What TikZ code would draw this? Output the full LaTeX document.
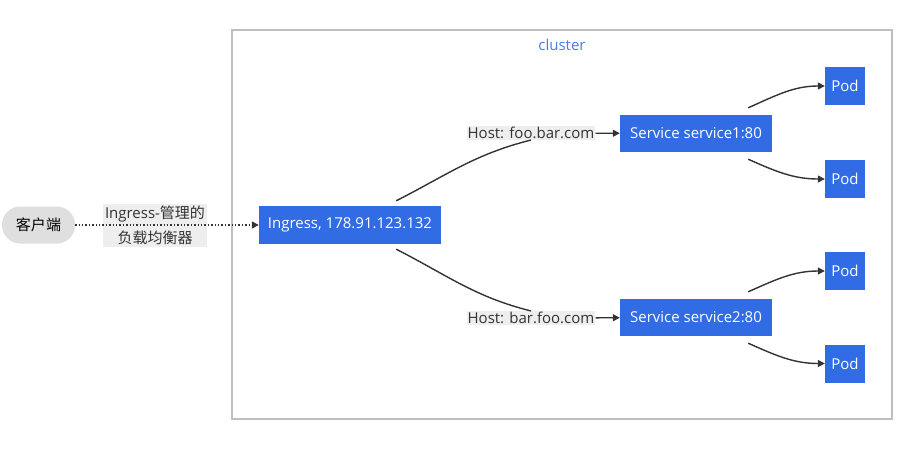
\documentclass[tikz,border=0pt]{standalone}
\usepackage{fontspec}
\setmainfont{Open Sans}
\newfontfamily\cjk{Noto Sans CJK SC}
\usetikzlibrary{positioning,arrows.meta}
\definecolor{kblue}{HTML}{326CE5}
\definecolor{edgegray}{HTML}{333333}
\begin{document}
\begin{tikzpicture}[
            x=1pt, y=-1pt,
            >={Triangle[length=7pt,width=7pt]},
            every node/.style={font=\fontsize{15}{22}\selectfont},
            blue box/.style={rectangle, fill=kblue, text=white, inner xsep=0pt,
                        minimum height=38pt},
            pod/.style={blue box, minimum width=40pt},
            svc/.style={blue box, minimum width=152pt, minimum height=37pt},
            lbl/.style={fill=gray!13, inner sep=1pt, text=edgegray, align=center},
            link/.style={draw=edgegray, line width=1.4pt}
        ]
            \useasboundingbox (0,0) rectangle (901,458);
            % cluster frame
            \node[draw=gray!50, line width=1.6pt, minimum width=660pt, minimum height=389pt] (cluster) at (562,224.5) {};
            \node[text=kblue!90!white] (cname) at (562,45) {cluster};

            \node[rectangle, rounded corners=18pt, fill=gray!25, minimum width=73pt, minimum height=37pt] (client) at (38.5,225) {\cjk 客户端};
            \node[lbl, inner xsep=2pt, inner ysep=2pt, font=\fontsize{15}{25}\selectfont] (lb) at (155,225.5) {Ingress-{\cjk 管理的}\\{\cjk 负载均衡器}};
            \node[blue box, minimum width=182pt] (ing) at (350,225) {Ingress, 178.91.123.132};

            \node[lbl] (h1) at (531,133) {Host: foo.bar.com};
            \node[lbl] (h2) at (531,318) {Host: bar.foo.com};
            \node[svc] (s1) at (696,133.5) {Service service1:80};
            \node[svc] (s2) at (696,317.5) {Service service2:80};

            \node[pod] (p1) at (845,86) {Pod};
            \node[pod] (p2) at (845,179) {Pod};
            \node[pod] (p3) at (845,271) {Pod};
            \node[pod] (p4) at (845,363.5) {Pod};

            \draw[link, dotted, ->] (client) -- (ing);
            \draw[link] ([xshift=-45pt,yshift=5pt]ing.north east) to[out=27,in=194] (h1.south);
            \draw[link] ([xshift=-45pt,yshift=-5pt]ing.south east) to[out=-27,in=166] (h2.north);
            \draw[link, ->] (h1) -- (s1);
            \draw[link, ->] (h2) -- (s2);
            \draw[link, ->] ([xshift=-24pt,yshift=7pt]s1.north east) to[out=24,in=180] (p1.west);
            \draw[link, ->] ([xshift=-24pt,yshift=-7pt]s1.south east) to[out=-24,in=180] (p2.west);
            \draw[link, ->] ([xshift=-24pt,yshift=7pt]s2.north east) to[out=24,in=180] (p3.west);
            \draw[link, ->] ([xshift=-24pt,yshift=-7pt]s2.south east) to[out=-24,in=180] (p4.west);
        \end{tikzpicture}
\end{document}
